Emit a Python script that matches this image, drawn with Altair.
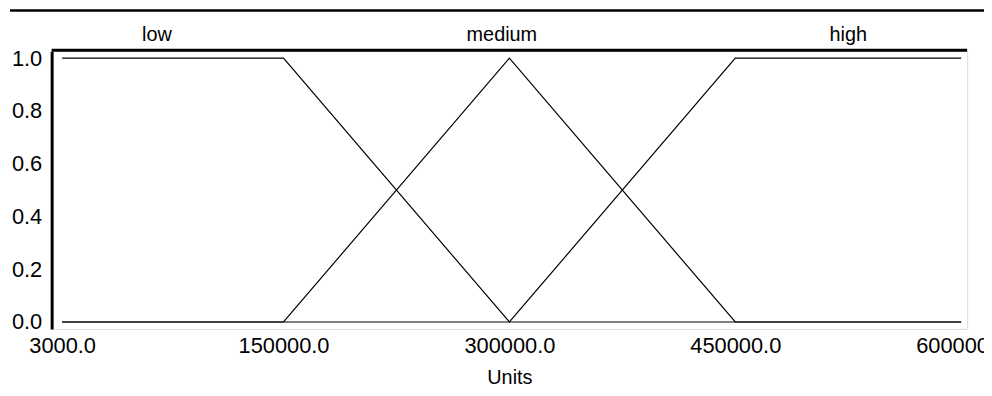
import altair as alt
import pandas as pd

# Membership functions (x in Units, y membership degree)
low_x = [3000, 150000, 300000, 600000]
low_y = [1.0, 1.0, 0.0, 0.0]
medium_x = [3000, 150000, 300000, 450000, 600000]
medium_y = [0.0, 0.0, 1.0, 0.0, 0.0]
high_x = [3000, 300000, 450000, 600000]
high_y = [0.0, 0.0, 1.0, 1.0]

term_names = ["low", "medium", "high"]
term_label_x = [66000, 295000, 525000]

x_ticks = [3000, 150000, 300000, 450000, 600000]
y_ticks = [0.0, 0.2, 0.4, 0.6, 0.8, 1.0]

rows = []
for name, xs_, ys_ in [("low", low_x, low_y), ("medium", medium_x, medium_y), ("high", high_x, high_y)]:
    for a, b in zip(xs_, ys_):
        rows.append({"term": name, "x": a, "y": b})
df = pd.DataFrame(rows)
lab_df = pd.DataFrame({"term": term_names, "x": term_label_x})
dummy = pd.DataFrame({"a": [0]})

FONT = "Liberation Sans"
W, H = 923, 280

xscale = alt.Scale(domain=[0, 600000], padding=6, nice=False, zero=False)
yscale = alt.Scale(domain=[0, 1], padding=7, nice=False, zero=False)

xaxis = alt.Axis(values=x_ticks, format=".1f", grid=False, ticks=False, tickSize=0,
                 domain=False, labelPadding=7, labelFlush=False, labelOverlap=False,
                 labelFontSize=22, labelFont=FONT, labelColor="black",
                 titleFontSize=20, titleFont=FONT, titleColor="black",
                 titleFontWeight="normal", titlePadding=11)
yaxis = alt.Axis(values=y_ticks, format=".1f", grid=False, ticks=False, tickSize=0,
                 domain=True, domainColor="black", domainWidth=3, labelPadding=10,
                 labelFontSize=22, labelFont=FONT, labelColor="black", title=None)

lines = alt.Chart(df).mark_line(color="black", strokeWidth=1.2).encode(
    x=alt.X("x:Q", scale=xscale, axis=xaxis, title="Units"),
    y=alt.Y("y:Q", scale=yscale, axis=yaxis, title=None),
    detail="term:N",
)

labels = alt.Chart(lab_df).mark_text(
    baseline="alphabetic", align="center", fontSize=20, font=FONT, color="black"
).encode(
    x=alt.X("x:Q", scale=xscale, axis=xaxis, title="Units"),
    y=alt.value(-10),
    text="term:N",
)

frame_top = alt.Chart(dummy).mark_rule(color="black", strokeWidth=3).encode(
    x=alt.value(0), x2=alt.value(W), y=alt.value(-1)
)
window_top = alt.Chart(dummy).mark_rule(color="black", strokeWidth=2.5).encode(
    x=alt.value(-42), x2=alt.value(W + 17), y=alt.value(-41)
)

chart = alt.layer(window_top, frame_top, lines, labels).properties(
    width=W, height=H,
    autosize=alt.AutoSizeParams(type="none"),
    padding={"left": 44, "top": 42, "right": 17, "bottom": 58},
).configure_view(stroke=None).configure(font=FONT)

chart.save("out.html", embed_options={"renderer": "svg", "actions": False})
